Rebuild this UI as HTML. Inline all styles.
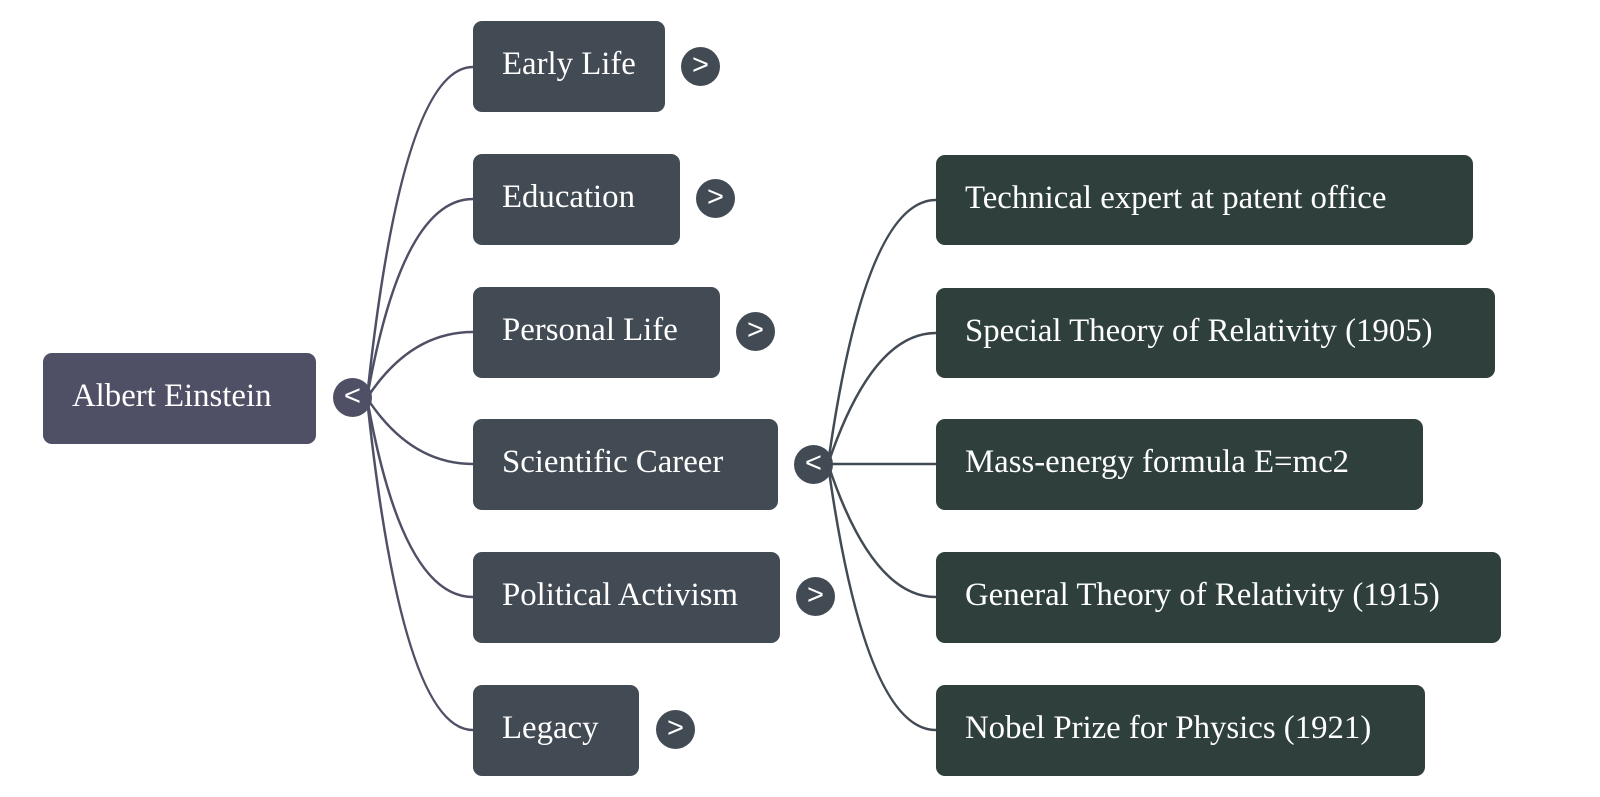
<!DOCTYPE html>
<html><head><meta charset="utf-8"><style>
body{margin:0;background:#fff;width:1600px;height:797px;overflow:hidden;position:relative;font-family:"Liberation Serif",serif}
.b{position:absolute;border-radius:9px;color:#fff;font-size:32.8px;box-sizing:border-box;padding-left:29px;line-height:86px;white-space:nowrap}
.r{background:#4f5066}.l{background:#424a54}.s{background:#2f403c}
.c{position:absolute;width:39px;height:39px;border-radius:50%;color:#fff;font-family:"Liberation Sans",sans-serif;font-size:29px;line-height:37px;text-align:center}
</style></head><body>
<svg width="1600" height="797" style="position:absolute;left:0;top:0" fill="none" stroke="#4f5066" stroke-width="2.5">
<path d="M367 398 Q402 67 473 67"/>
<path d="M367 398 Q402 199 473 199"/>
<path d="M367 398 Q410 332 473 332"/>
<path d="M367 398 Q410 464 473 464"/>
<path d="M367 398 Q402 597 473 597"/>
<path d="M367 398 Q402 730 473 730"/>
<path d="M828 464 Q865 200 936 200" stroke="#424a54"/>
<path d="M828 464 Q872 333 936 333" stroke="#424a54"/>
<path d="M828 464 L936 464" stroke="#424a54"/>
<path d="M828 464 Q872 597 936 597" stroke="#424a54"/>
<path d="M828 464 Q865 730 936 730" stroke="#424a54"/>
</svg>
<div class="b r" style="left:43px;top:353px;width:273px;height:91px">Albert Einstein</div>
<div class="c" style="left:333px;top:378px;background:#4f5066">&lt;</div>
<div class="b l" style="left:473px;top:21px;width:192px;height:91px">Early Life</div>
<div class="b l" style="left:473px;top:154px;width:207px;height:91px">Education</div>
<div class="b l" style="left:473px;top:287px;width:247px;height:91px">Personal Life</div>
<div class="b l" style="left:473px;top:419px;width:305px;height:91px">Scientific Career</div>
<div class="b l" style="left:473px;top:552px;width:307px;height:91px">Political Activism</div>
<div class="b l" style="left:473px;top:685px;width:166px;height:91px">Legacy</div>
<div class="c" style="left:681px;top:47px;background:#424a54">&gt;</div>
<div class="c" style="left:696px;top:179px;background:#424a54">&gt;</div>
<div class="c" style="left:736px;top:312px;background:#424a54">&gt;</div>
<div class="c" style="left:794px;top:445px;background:#424a54">&lt;</div>
<div class="c" style="left:796px;top:577px;background:#424a54">&gt;</div>
<div class="c" style="left:656px;top:710px;background:#424a54">&gt;</div>
<div class="b s" style="left:936px;top:155px;width:537px;height:90px">Technical expert at patent office</div>
<div class="b s" style="left:936px;top:288px;width:559px;height:90px">Special Theory of Relativity (1905)</div>
<div class="b s" style="left:936px;top:419px;width:487px;height:91px">Mass-energy formula E=mc2</div>
<div class="b s" style="left:936px;top:552px;width:565px;height:91px">General Theory of Relativity (1915)</div>
<div class="b s" style="left:936px;top:685px;width:489px;height:91px">Nobel Prize for Physics (1921)</div>
</body></html>
